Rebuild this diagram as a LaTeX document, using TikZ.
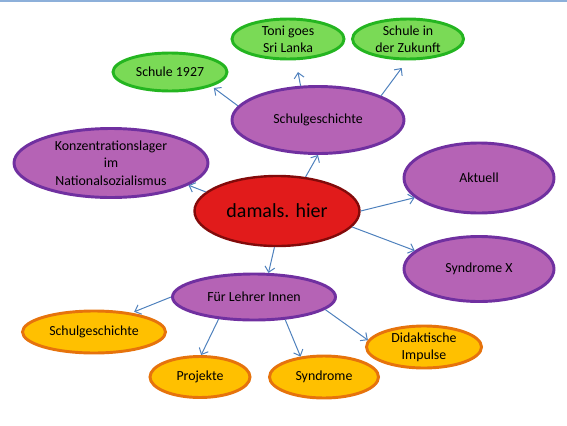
\documentclass[tikz,border=0pt]{standalone}
\usepackage{fontspec}
\setmainfont{Carlito}
\usetikzlibrary{shapes.geometric,arrows.meta}
\definecolor{grfill}{RGB}{122,218,86}
\definecolor{grline}{RGB}{36,181,32}
\definecolor{pufill}{RGB}{181,99,181}
\definecolor{puline}{RGB}{112,48,160}
\definecolor{rdfill}{RGB}{225,27,27}
\definecolor{rdline}{RGB}{130,10,10}
\definecolor{orfill}{RGB}{255,192,0}
\definecolor{orline}{RGB}{230,115,12}
\definecolor{arrowc}{RGB}{79,129,189}
\definecolor{topline}{RGB}{141,176,218}
\tikzset{
  bubble/.style={ellipse,inner sep=0pt,line width=2.2pt,align=center,
    font=\fontsize{10.4}{13}\selectfont,text=black},
  green/.style={bubble,draw=grline,fill=grfill},
  purple/.style={bubble,draw=puline,fill=pufill},
  redc/.style={bubble,draw=rdline,fill=rdfill,line width=1.8pt,font=\fontsize{15}{18}\selectfont},
  orange/.style={bubble,draw=orline,fill=orfill},
  link/.style={draw=arrowc,line width=0.75pt,-{Straight Barb[length=4pt,width=7.5pt]}}
}
\begin{document}
\begin{tikzpicture}[x=0.75pt,y=-0.75pt]
\useasboundingbox (0,0) rectangle (567,425);
\draw[topline,line width=1.2pt] (0,0.8) -- (567,0.8);
% nodes
\node[green,minimum width=85.5pt,minimum height=28.5pt] (s1927) at (170,72) {Schule 1927};
\node[green,minimum width=84pt,minimum height=30pt] (toni) at (288,39) {Toni goes\\Sri Lanka};
\node[green,minimum width=83.25pt,minimum height=30pt] (zuk) at (408,39) {Schule in\\der Zukunft};
\node[purple,minimum width=129pt,minimum height=50.25pt] (sg) at (318,120) {Schulgeschichte};
\node[purple,minimum width=145.5pt,minimum height=51.75pt] (konz) at (111,163) {Konzentrationslager\\im\\Nationalsozialismus};
\node[redc,minimum width=123.75pt,minimum height=52.5pt] (dh) at (277,211) {damals. hier};
\node[purple,minimum width=112.5pt,minimum height=52.5pt] (akt) at (479,178) {Aktuell};
\node[purple,minimum width=112.5pt,minimum height=48.75pt] (synx) at (479,269) {Syndrome X};
\node[purple,minimum width=122.25pt,minimum height=34.5pt] (fli) at (254,297) {Für Lehrer Innen};
\node[orange,minimum width=107.25pt,minimum height=31.5pt] (sgo) at (94,332) {Schulgeschichte};
\node[orange,minimum width=75pt,minimum height=30.75pt] (proj) at (200,377) {Projekte};
\node[orange,minimum width=81.75pt,minimum height=31.5pt] (synd) at (324,377) {Syndrome};
\node[orange,minimum width=86.25pt,minimum height=31.5pt] (dida) at (424,347) {Didaktische\\Impulse};
% connectors
\draw[link] (dh.165.6) -- (konz.-16);
\draw[link] (dh.50) -- (sg.-90);
\draw[link] (dh.0) -- (akt.-163);
\draw[link] (dh.-12.6) -- (synx.164.6);
\draw[link] (dh.-94.4) -- (fli.59);
\draw[link,shorten >=2pt] (sg.170.8) -- (s1927.-19.7);
\draw[link,shorten >=9pt] (sg.117) -- (toni.-70);
\draw[link,shorten >=7pt] (sg.21) -- (zuk.-92);
\draw[link,shorten >=2pt] (fli.180) -- (sgo.27.7);
\draw[link] (fli.-148.8) -- (proj.87);
\draw[link] (fli.-36.6) -- (synd.139.8);
\draw[link] (fli.-10.6) -- (dida.173);
\end{tikzpicture}
\end{document}
